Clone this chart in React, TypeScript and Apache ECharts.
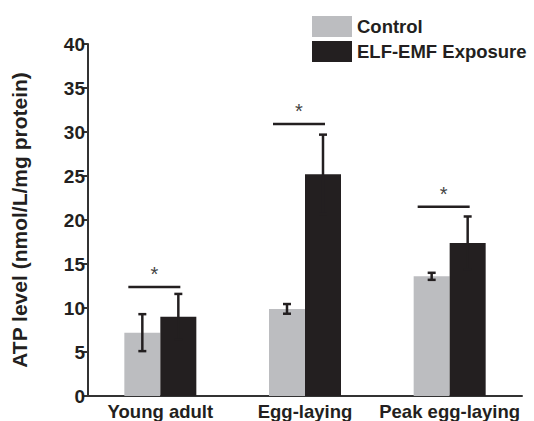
import React, { useEffect, useRef } from "react";
import * as echarts from "echarts";

const categories = ["Young adult", "Egg-laying", "Peak egg-laying"];
const controlValues = [7.2, 9.9, 13.6];
const controlErrors = [2.1, 0.55, 0.4];
const exposureValues = [9.0, 25.2, 17.4];
const exposureErrors = [2.6, 4.5, 3.0];
const significanceLevels = [12.4, 30.9, 21.5];
const yTicks = [0, 5, 10, 15, 20, 25, 30, 35, 40];

const INK = "#231f20";
const GRAY = "#bcbdc0";
const FONT = "Liberation Sans, Arial, sans-serif";

function errorSeries(name: string, means: number[], errs: number[], offset: number) {
  return {
    type: "custom",
    name: name + " error",
    z: 5,
    silent: true,
    data: means.map((m, i) => [i, m - errs[i], m + errs[i]]),
    renderItem: (params: any, api: any) => {
      const idx = api.value(0);
      const lo = api.coord([idx, api.value(1)]);
      const hi = api.coord([idx, api.value(2)]);
      const cx = lo[0] + offset;
      const cap = 4;
      const style = { stroke: INK, lineWidth: 2.5 };
      return {
        type: "group",
        children: [
          { type: "line", shape: { x1: cx, y1: lo[1], x2: cx, y2: hi[1] }, style },
          { type: "line", shape: { x1: cx - cap, y1: hi[1], x2: cx + cap, y2: hi[1] }, style },
          { type: "line", shape: { x1: cx - cap, y1: lo[1], x2: cx + cap, y2: lo[1] }, style },
        ],
      };
    },
  };
}

export default function App() {
  const ref = useRef<HTMLDivElement>(null);
  useEffect(() => {
    if (!ref.current) return;
    const chart = echarts.init(ref.current, undefined, { renderer: "svg" });
    chart.setOption({
      animation: false,
      backgroundColor: "#ffffff",
      textStyle: { fontFamily: FONT },
      legend: {
        orient: "vertical",
        left: 312,
        top: 16,
        padding: 0,
        icon: "rect",
        itemWidth: 40,
        itemHeight: 21,
        itemGap: 4,
        data: ["Control", "ELF-EMF Exposure"],
        textStyle: { fontSize: 18.5, fontWeight: "bold", color: INK, fontFamily: FONT },
      },
      grid: { left: 88, right: 12, top: 44, bottom: 25 },
      xAxis: {
        type: "category",
        data: categories,
        axisLine: { lineStyle: { color: "#333", width: 2 } },
        axisTick: { show: false },
        axisLabel: { interval: 0, fontSize: 18.5, fontWeight: "bold", color: INK, margin: 6, fontFamily: FONT },
      },
      yAxis: {
        type: "value",
        min: 0,
        max: 40,
        interval: 5,
        name: "ATP level (nmol/L/mg protein)",
        nameLocation: "middle",
        nameGap: 58,
        nameTextStyle: { fontSize: 21, fontWeight: "bold", color: INK, fontFamily: FONT },
        splitLine: { show: false },
        axisLine: { show: true, lineStyle: { color: "#333", width: 2 } },
        axisTick: { show: true, length: 6, lineStyle: { color: "#333", width: 2 } },
        axisLabel: {
          fontSize: 19,
          fontWeight: "bold",
          color: INK,
          margin: 3,
          fontFamily: FONT,
          formatter: (v: number) => (yTicks.includes(v) ? String(v) : ""),
        },
      },
      series: [
        {
          type: "bar",
          name: "Control",
          data: controlValues,
          barWidth: 36,
          barGap: "0%",
          itemStyle: { color: GRAY },
        },
        {
          type: "bar",
          name: "ELF-EMF Exposure",
          data: exposureValues,
          barWidth: 36,
          barGap: "0%",
          itemStyle: { color: INK },
        },
        errorSeries("Control", controlValues, controlErrors, -18),
        errorSeries("ELF-EMF Exposure", exposureValues, exposureErrors, 18),
        {
          type: "custom",
          name: "significance",
          z: 6,
          silent: true,
          data: significanceLevels.map((v, i) => [i, v]),
          renderItem: (params: any, api: any) => {
            const p = api.coord([api.value(0), api.value(1)]);
            const x1 = p[0] - 32;
            const x2 = p[0] + 20;
            return {
              type: "group",
              children: [
                { type: "line", shape: { x1, y1: p[1], x2, y2: p[1] }, style: { stroke: INK, lineWidth: 2.5 } },
                {
                  type: "text",
                  x: (x1 + x2) / 2,
                  y: p[1] - 3,
                  style: {
                    text: "*",
                    fontSize: 20,
                    fontFamily: FONT,
                    fill: "#444",
                    align: "center",
                    verticalAlign: "bottom",
                  },
                },
              ],
            };
          },
        },
      ],
    });
    return () => chart.dispose();
  }, []);
  return <div ref={ref} style={{ width: 534, height: 421, position: "absolute", left: 0, top: 0 }} />;
}
